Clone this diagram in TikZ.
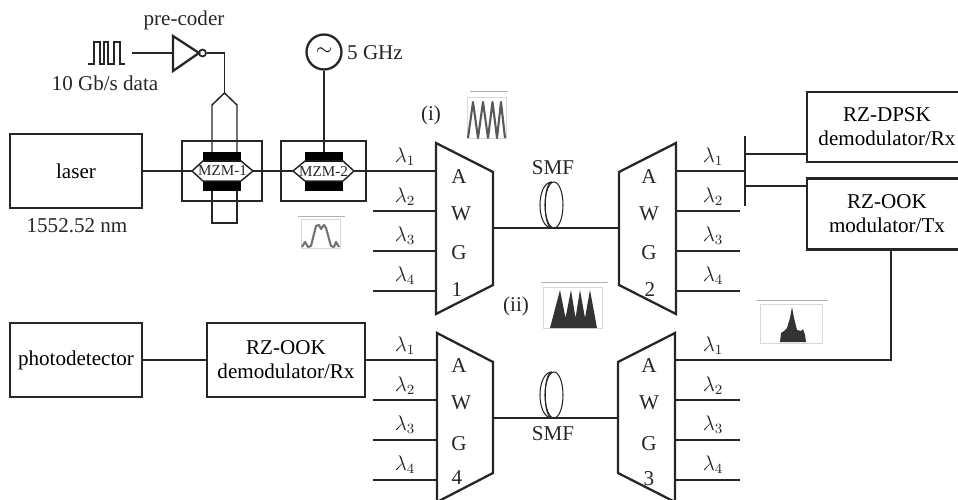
\documentclass[tikz,border=0pt]{standalone}
\usepackage{fontspec}
\setmainfont{Liberation Serif}
\usetikzlibrary{calc}
\tikzset{>=latex}
\tikzset{
    box/.style={draw=black!85,line width=1.3pt,inner sep=0pt,align=center},
    conn/.style={draw=black!85,line width=0.85pt},
    awgline/.style={draw=black!85,line width=1.3pt,line join=miter},
    label/.style={inner sep=0pt,text=black!85},
    electrode/.style={fill=black,draw=none},
    specframe/.style={draw=black!15,line width=0.3pt},
    spectitle/.style={draw=black!30,line width=0.5pt},
    specpeak/.style={draw=black!65,line width=1.2pt,line join=round}
}

\begin{document}
\begin{tikzpicture}[x=0.02cm,y=-0.02cm,font=\fontsize{12}{13.6}\selectfont]
            \useasboundingbox (0,0) rectangle (958,500);
            \clip (0,0) rectangle (958,500);

            % boxes
            \node[box,minimum width=2.64cm,minimum height=1.48cm] (laser) at (76,171) {laser};
            \node[box,minimum width=1.6cm,minimum height=1.2cm] (mzmone) at (222,171) {};
            \node[box,minimum width=1.7cm,minimum height=1.2cm] (mzmtwo) at (323.5,171) {};
            \node[box,minimum width=3.2cm,minimum height=1.4cm] (dpsk) at (887,127) {RZ-DPSK\\demodulator/Rx};
            \node[box,minimum width=3.2cm,minimum height=1.42cm] (ookmod) at (887,214) {RZ-OOK\\modulator/Tx};
            \node[box,minimum width=2.64cm,minimum height=1.48cm] (photo) at (76,360) {photodetector};
            \node[box,minimum width=3.16cm,minimum height=1.48cm] (ookdem) at (286,360) {RZ-OOK\\demodulator/Rx};

            % labels
            \node[label] (precoderlabel) at (184,20) {pre-coder};
            \node[label] (datalabel) at (105,83) {10 Gb/s data};
            \node[label] (ghzlabel) at (375,53) {5 GHz};
            \node[label] (nmlabel) at (77,226) {1552.52 nm};
            \node[label] (labeli) at (431,115) {(i)};
            \node[label] (labelii) at (516,306) {(ii)};
            \node[label] (smfone) at (553,168) {SMF};
            \node[label] (smftwo) at (553,434) {SMF};

            % pulses, pre-coder and RF source
            \coordinate (dataend) at (132,53);
            \coordinate (invin) at (173,53);
            \coordinate (invtop) at (173,36);
            \coordinate (invbot) at (173,71);
            \coordinate (invtip) at (199,53);
            \coordinate (elbow) at (224.5,53);
            \coordinate (apex) at (224.5,93);
            \draw[conn] (88,64)--(94,64)--(94,42)--(100,42)--(100,64)--(104,64)--(104,42)--(108,42)--(108,64)--(114,64)--(114,42)--(120,42)--(120,64)--(125,64);
            \draw[conn] (dataend)--(invin);
            \draw[awgline] (invtop)--(invtip)--(invbot)--cycle;
            \node[circle,draw=black!85,line width=1pt,minimum size=0.14cm,inner sep=0pt] (bubble) at (202.5,53) {};
            \draw[conn] (bubble)--(elbow)--(apex);
            \node[circle,box,minimum size=0.7cm] (source) at (324,52) {$\sim$};

            % first modulator
            \coordinate (oneleft) at (192,171);
            \coordinate (oneright) at (253,171);
            \coordinate (oneupa) at (212,152);
            \coordinate (oneupb) at (237,152);
            \coordinate (onelowa) at (212,191);
            \coordinate (onelowb) at (237,191);
            \draw[electrode] (203,152) rectangle (241,162);
            \draw[electrode] (203,181) rectangle (241,191);
            \draw[conn] (oneleft)--(203,161)--(241,161)--(oneright)--(241,181)--(203,181)--cycle;
            \draw[conn] (apex)--(212,105)--(oneupa);
            \draw[conn] (apex)--(237,105)--(oneupb);
            \draw[conn] (onelowa)--(212,223)--(237,223)--(onelowb);
            \node[label,font=\fontsize{8.6}{10}\selectfont] (mzmonetext) at (222.5,171) {MZM-1};

            % second modulator
            \coordinate (twoleft) at (293,171);
            \coordinate (tworight) at (354,171);
            \coordinate (twoup) at (324,152);
            \draw[electrode] (305,152) rectangle (343,162);
            \draw[electrode] (305,181) rectangle (343,191);
            \draw[conn] (twoleft)--(305,161)--(343,161)--(tworight)--(343,181)--(305,181)--cycle;
            \draw[conn] (source)--(twoup);
            \node[label,font=\fontsize{8.6}{10}\selectfont] (mzmtwotext) at (323.5,171) {MZM-2};

            \draw[conn] (laser)--(oneleft);
            \draw[conn] (oneright)--(twoleft);

            % AWG 1
            \coordinate (awgonea) at (436,143);
            \coordinate (awgoneb) at (493,172);
            \coordinate (awgonec) at (493,285);
            \coordinate (awgoned) at (436,314);
            \draw[awgline] (awgonea)--(awgoneb)--(awgonec)--(awgoned)--cycle;
            \node[label] (awgoneA) at (459,177) {A};
            \node[label] (awgoneW) at (461,214) {W};
            \node[label] (awgoneG) at (459,253) {G};
            \node[label] (awgoneN) at (457,290) {1};
            \coordinate (awgonein) at (436,171);
            \coordinate (awgoneinb) at (436,211);
            \coordinate (awgoneinc) at (436,251);
            \coordinate (awgoneind) at (436,291);
            \coordinate (awgoneendb) at (373,211);
            \coordinate (awgoneendc) at (373,251);
            \coordinate (awgoneendd) at (373,291);
            \coordinate (awgoneout) at (493,228);
            \draw[conn] (tworight)--(awgonein);
            \draw[conn] (awgoneendb)--(awgoneinb);
            \draw[conn] (awgoneendc)--(awgoneinc);
            \draw[conn] (awgoneendd)--(awgoneind);
            \node[label] (lamonea) at (405,157) {$\lambda_1$};
            \node[label] (lamoneb) at (405,197) {$\lambda_2$};
            \node[label] (lamonec) at (405,236) {$\lambda_3$};
            \node[label] (lamoned) at (405,276) {$\lambda_4$};

            % AWG 2
            \coordinate (awgtwoa) at (676,143);
            \coordinate (awgtwob) at (619,172);
            \coordinate (awgtwoc) at (619,285);
            \coordinate (awgtwod) at (676,314);
            \draw[awgline] (awgtwoa)--(awgtwob)--(awgtwoc)--(awgtwod)--cycle;
            \node[label] (awgtwoA) at (649,177) {A};
            \node[label] (awgtwoW) at (649,214) {W};
            \node[label] (awgtwoG) at (649,253) {G};
            \node[label] (awgtwoN) at (650,290) {2};
            \coordinate (awgtwoin) at (619,228);
            \coordinate (awgtwoouta) at (676,171);
            \coordinate (awgtwooutb) at (676,211);
            \coordinate (awgtwooutc) at (676,251);
            \coordinate (awgtwooutd) at (676,291);
            \coordinate (awgtwoendb) at (740,211);
            \coordinate (awgtwoendc) at (740,251);
            \coordinate (awgtwoendd) at (740,291);
            \coordinate (bartop) at (745,136);
            \coordinate (barbot) at (745,206);
            \coordinate (barmid) at (745,171);
            \coordinate (barup) at (745,154);
            \coordinate (barlow) at (745,186);
            \draw[conn] (awgtwoouta)--(barmid);
            \draw[conn] (awgtwooutb)--(awgtwoendb);
            \draw[conn] (awgtwooutc)--(awgtwoendc);
            \draw[conn] (awgtwooutd)--(awgtwoendd);
            \draw[awgline] (bartop)--(barbot);
            \draw[conn] (barup)--(barup-|dpsk.west);
            \draw[conn] (barlow)--(barlow-|ookmod.west);
            \node[label] (lamtwoa) at (713,157) {$\lambda_1$};
            \node[label] (lamtwob) at (713,197) {$\lambda_2$};
            \node[label] (lamtwoc) at (713,236) {$\lambda_3$};
            \node[label] (lamtwod) at (713,276) {$\lambda_4$};

            % AWG 3
            \coordinate (awgthra) at (675,333);
            \coordinate (awgthrb) at (618,362);
            \coordinate (awgthrc) at (618,473);
            \coordinate (awgthrd) at (675,502);
            \draw[awgline] (awgthra)--(awgthrb)--(awgthrc)--(awgthrd)--cycle;
            \node[label] (awgthrA) at (649,366) {A};
            \node[label] (awgthrW) at (649,403) {W};
            \node[label] (awgthrG) at (649,444) {G};
            \node[label] (awgthrN) at (649,479) {3};
            \coordinate (awgthrin) at (618,418);
            \coordinate (awgthrouta) at (675,360);
            \coordinate (awgthroutb) at (675,400);
            \coordinate (awgthroutc) at (675,440);
            \coordinate (awgthroutd) at (675,480);
            \coordinate (awgthrendb) at (740,400);
            \coordinate (awgthrendc) at (740,440);
            \coordinate (awgthrendd) at (740,480);
            \coordinate (ookcorner) at (891,360);
            \draw[conn] (ookmod.south-|ookcorner)--(ookcorner)--(awgthrouta);
            \draw[conn] (awgthroutb)--(awgthrendb);
            \draw[conn] (awgthroutc)--(awgthrendc);
            \draw[conn] (awgthroutd)--(awgthrendd);
            \node[label] (lamthra) at (713,346) {$\lambda_1$};
            \node[label] (lamthrb) at (713,386) {$\lambda_2$};
            \node[label] (lamthrc) at (713,425) {$\lambda_3$};
            \node[label] (lamthrd) at (713,465) {$\lambda_4$};

            % AWG 4
            \coordinate (awgfoua) at (437,333);
            \coordinate (awgfoub) at (493,362);
            \coordinate (awgfouc) at (493,473);
            \coordinate (awgfoud) at (437,502);
            \draw[awgline] (awgfoua)--(awgfoub)--(awgfouc)--(awgfoud)--cycle;
            \node[label] (awgfouA) at (459,366) {A};
            \node[label] (awgfouW) at (461,403) {W};
            \node[label] (awgfouG) at (459,444) {G};
            \node[label] (awgfouN) at (457,478) {4};
            \coordinate (awgfouout) at (493,418);
            \coordinate (awgfouina) at (437,360);
            \coordinate (awgfouinb) at (437,400);
            \coordinate (awgfouinc) at (437,440);
            \coordinate (awgfouind) at (437,480);
            \coordinate (awgfouendb) at (373,400);
            \coordinate (awgfouendc) at (373,440);
            \coordinate (awgfouendd) at (373,480);
            \draw[conn] (ookdem)--(awgfouina);
            \draw[conn] (awgfouendb)--(awgfouinb);
            \draw[conn] (awgfouendc)--(awgfouinc);
            \draw[conn] (awgfouendd)--(awgfouind);
            \draw[conn] (photo)--(ookdem);
            \node[label] (lamfoua) at (405,346) {$\lambda_1$};
            \node[label] (lamfoub) at (405,386) {$\lambda_2$};
            \node[label] (lamfouc) at (405,425) {$\lambda_3$};
            \node[label] (lamfoud) at (405,465) {$\lambda_4$};

            % fibres
            \draw[conn] (awgoneout)--(awgtwoin);
            \draw[conn] (awgfouout)--(awgthrin);
            \draw[black!85,line width=0.6pt] (554,205) ellipse [x radius=9,y radius=23];
            \draw[black!85,line width=0.6pt] (552,182) .. controls (536,182) and (536,228) .. (552,228);
            \draw[black!85,line width=0.6pt] (552,182) .. controls (543,182) and (543,228) .. (552,228);
            \draw[black!85,line width=0.6pt] (554,395) ellipse [x radius=9,y radius=23];
            \draw[black!85,line width=0.6pt] (552,372) .. controls (536,372) and (536,418) .. (552,418);
            \draw[black!85,line width=0.6pt] (552,372) .. controls (543,372) and (543,418) .. (552,418);

            % spectrum (i)
            \draw[specframe] (467,97) rectangle (506,138);
            \draw[spectitle] (470,91)--(508,91);
            \draw[specpeak] (468,138)--(473,102)--(478,138)--(483,102)--(488,138)--(492.5,102)--(497,138)--(501,102)--(505,138);

            % spectrum (ii)
            \draw[specframe] (543,287) rectangle (602,328);
            \draw[spectitle] (541,282)--(608,282);
            \fill[black!80] (550,328)--(560,290)--(565.5,318)--(571,290)--(575.5,318)--(580,290)--(585,318)--(590,290)--(597,328)--cycle;

            % spectrum at MZM-2
            \draw[specframe] (301,219) rectangle (340,248);
            \draw[spectitle] (298,216)--(345,216);
            \draw[specpeak,black!55] (302,247)--(305,242)--(308,247)--(311,246)--(316,226)--(319,225)--(321,229)--(324,225)--(326,228)--(331,246)--(334,247)--(336,242)--(339,247);

            % spectrum at RZ-OOK modulator
            \draw[specframe] (760,304) rectangle (822,343);
            \draw[spectitle] (757,300)--(828,300);
            \fill[black!80] (780,342)--(781,333)--(784,331)--(787,328)--(790,318)--(792,307)--(794,318)--(797,330)--(801,331)--(803,329)--(805,335)--(806,342)--cycle;
        \end{tikzpicture}
\end{document}
